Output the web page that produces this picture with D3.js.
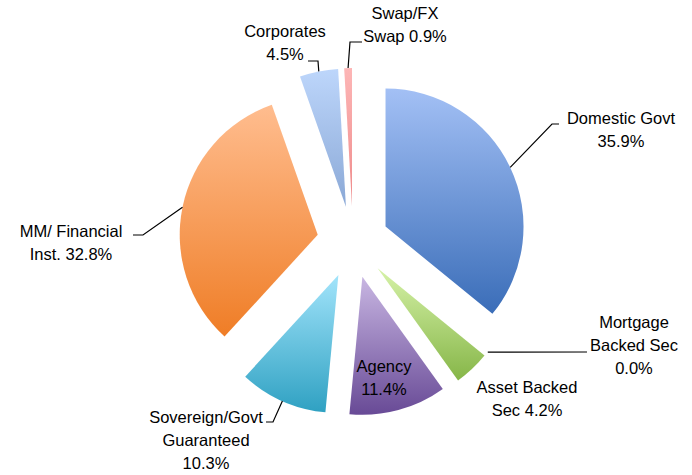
<!DOCTYPE html>
<html>
<head>
<meta charset="utf-8">
<script src="https://cdn.jsdelivr.net/npm/d3@7"></script>
<style>
  html, body { margin: 0; padding: 0; background: #fff; }
  svg { display: block; }
</style>
</head>
<body>
<div id="chart"></div>
<script>
// chart data (clockwise from 12 o'clock)
var categories = ["Domestic Govt", "Mortgage Backed Sec", "Asset Backed Sec", "Agency",
    "Sovereign/Govt Guaranteed", "MM/ Financial Inst.", "Corporates", "Swap/FX Swap"];
var shares = [35.9, 0.0, 4.2, 11.4, 10.3, 32.8, 4.5, 0.9];
// how the label text is broken onto lines (value is appended to the last one)
var labelLines = [
    ["Domestic Govt", ""],
    ["Mortgage", "Backed Sec", ""],
    ["Asset Backed", "Sec "],
    ["Agency", ""],
    ["Sovereign/Govt", "Guaranteed", ""],
    ["MM/ Financial", "Inst. "],
    ["Corporates", ""],
    ["Swap/FX", "Swap "]
];

// gradient colours, top -> bottom of each slice
var topColors = ["#a3c0f5", "#c9c9c9", "#d6f2a8", "#c8b6e2", "#a2e4fb", "#ffbd8f", "#bdd6fb", "#fdb6b6"];
var bottomColors = ["#3a6db8", "#888888", "#86b648", "#684a96", "#2fa1c2", "#ef7d26", "#8aa8d6", "#ee8a8a"];

// label placement: text centre x, first baseline y, leader bend / end points
var labelLayout = [
    {x: 621, y: 124, bend: [552, 124], end: [559, 124]},
    {x: 634, y: 328, bend: null, end: [587, 352]},
    {x: 527, y: 393, bend: null, end: null},
    {x: 384, y: 372, bend: null, end: null},
    {x: 206, y: 423, bend: [273, 422], end: [266, 422]},
    {x: 71, y: 237, bend: [143, 235], end: [133, 235]},
    {x: 285, y: 37, bend: [318, 61], end: [308, 61]},
    {x: 405, y: 19, bend: [350, 42], end: [362, 42]}
];

var svgWidth = 692;
var svgHeight = 475;
var center = {x: 353, y: 242};
var radius = 138;
var explode = 36;
var lineHeight = 23;

var svg = d3.select("#chart")
    .append("svg")
    .attr("width", svgWidth)
    .attr("height", svgHeight);

// one vertical gradient per slice
var defs = svg.append("defs");
categories.forEach(function(c, i) {
    var g = defs.append("linearGradient")
        .attr("id", "grad" + i)
        .attr("x1", 0).attr("y1", 0)
        .attr("x2", 0).attr("y2", 1);
    g.append("stop").attr("offset", "0%").attr("stop-color", topColors[i]);
    g.append("stop").attr("offset", "100%").attr("stop-color", bottomColors[i]);
});

var pie = d3.pie().sort(null).value(d => d);
var arcs = pie(shares);

var arc = d3.arc().innerRadius(0).outerRadius(radius);

function midAngle(d) { return (d.startAngle + d.endAngle) / 2; }
function pointAt(d, r) {
    var a = midAngle(d);
    return [center.x + Math.sin(a) * r, center.y - Math.cos(a) * r];
}

var chartGroup = svg.append("g");

// slices, each pushed out along its middle angle
chartGroup.selectAll(".slice")
    .data(arcs)
    .enter()
    .append("path")
    .classed("slice", true)
    .attr("transform", function(d) {
        var p = pointAt(d, explode);
        return "translate(" + p[0] + "," + p[1] + ")";
    })
    .attr("d", arc)
    .attr("fill", (d, i) => "url(#grad" + i + ")");

// leader lines
var leaders = chartGroup.append("g");
arcs.forEach(function(d, i) {
    var lay = labelLayout[i];
    if (!lay.end) return;
    var pts = [pointAt(d, radius + explode)];
    if (lay.bend) pts.push(lay.bend);
    pts.push(lay.end);
    leaders.append("path")
        .attr("d", d3.line()(pts))
        .attr("fill", "none")
        .attr("stroke", "#000")
        .attr("stroke-width", 1.2);
});

// labels
var fmt = d3.format(".1f");
arcs.forEach(function(d, i) {
    var lay = labelLayout[i];
    var lines = labelLines[i].slice();
    lines[lines.length - 1] = lines[lines.length - 1] + fmt(shares[i]) + "%";
    var t = chartGroup.append("text")
        .attr("text-anchor", "middle")
        .attr("font-family", "'Liberation Sans', Arial, sans-serif")
        .attr("font-size", "16.5px")
        .attr("fill", "#000");
    lines.forEach(function(s, k) {
        t.append("tspan")
            .attr("x", lay.x)
            .attr("y", lay.y + k * lineHeight)
            .text(s);
    });
});
</script>
</body>
</html>
